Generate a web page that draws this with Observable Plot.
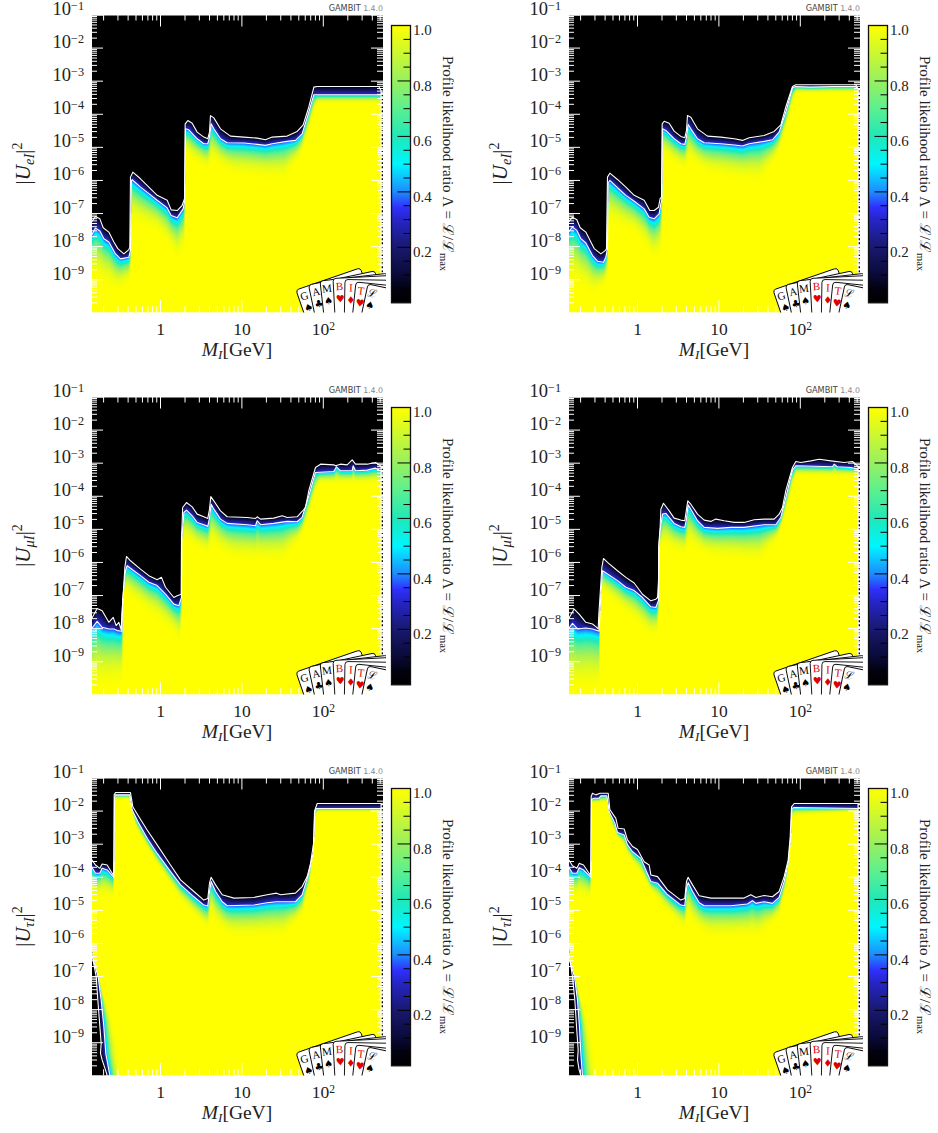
<!DOCTYPE html>
<html><head><meta charset="utf-8">
<script src="https://cdn.jsdelivr.net/npm/d3@7"></script>
<script src="https://cdn.jsdelivr.net/npm/@observablehq/plot@0.6"></script>
<style>
html,body{margin:0;padding:0;background:#fff}
#page{position:relative;width:938px;height:1133px;overflow:hidden;background:#fff}
#page svg{position:absolute;overflow:visible;background:transparent}
</style></head><body><div id="page"></div>
<script>
// All curves: [log10 M_I / GeV, log10 |U|^2].
// upper = outer white contour, lower = inner white contour, fade = depth at which the map reaches yellow.
const e1Upper=[[-0.848,-7.26],[-0.799,-7.09],[-0.745,-7.16],[-0.704,-7.43],[-0.635,-7.56],[-0.573,-7.86],[-0.524,-8.06],[-0.450,-8.22],[-0.389,-8.09],[-0.377,-8.01],[-0.369,-5.90],[-0.340,-5.75],[-0.246,-5.95],[-0.143,-6.20],[-0.041,-6.45],[0.082,-6.60],[0.131,-6.89],[0.205,-6.91],[0.266,-6.75],[0.295,-6.55],[0.303,-4.29],[0.336,-4.19],[0.389,-4.27],[0.450,-4.54],[0.532,-4.69],[0.581,-4.74],[0.602,-4.54],[0.614,-4.04],[0.655,-4.11],[0.737,-4.44],[0.860,-4.66],[1.024,-4.69],[1.188,-4.72],[1.290,-4.77],[1.372,-4.69],[1.556,-4.66],[1.679,-4.52],[1.753,-4.32],[1.822,-3.78],[1.884,-3.18],[1.925,-3.16],[2.682,-3.16],[2.703,-3.26]];
const e1Lower=[[-0.848,-7.66],[-0.799,-7.44],[-0.745,-7.53],[-0.696,-7.76],[-0.635,-7.86],[-0.553,-8.22],[-0.491,-8.37],[-0.389,-8.32],[-0.369,-8.11],[-0.357,-6.00],[-0.348,-5.98],[-0.246,-6.20],[-0.143,-6.40],[-0.041,-6.60],[0.082,-6.83],[0.131,-7.06],[0.205,-7.13],[0.278,-6.86],[0.299,-6.60],[0.307,-4.44],[0.348,-4.47],[0.450,-4.74],[0.532,-4.89],[0.581,-4.89],[0.602,-4.69],[0.622,-4.29],[0.655,-4.44],[0.737,-4.74],[0.819,-4.86],[1.024,-4.87],[1.188,-4.91],[1.290,-4.94],[1.372,-4.89],[1.556,-4.82],[1.659,-4.79],[1.740,-4.59],[1.822,-3.94],[1.884,-3.41],[2.703,-3.41]];
const e1Fade=[[-0.848,-9.22],[-0.532,-9.52],[-0.389,-9.22],[-0.372,-9.0],[-0.36,-7.51],[-0.041,-7.71],[0.123,-8.22],[0.205,-8.62],[0.295,-8.32],[0.31,-5.40],[0.573,-5.80],[0.655,-5.60],[0.90,-6.0],[1.515,-6.20],[1.72,-5.40],[1.822,-4.59],[1.925,-3.73],[2.703,-3.73]];

const e2Upper=[[-0.848,-7.26],[-0.799,-7.11],[-0.745,-7.19],[-0.704,-7.43],[-0.635,-7.56],[-0.573,-7.86],[-0.532,-8.06],[-0.450,-8.22],[-0.397,-8.12],[-0.381,-8.07],[-0.369,-5.90],[-0.340,-5.78],[-0.246,-5.97],[-0.143,-6.20],[-0.041,-6.45],[0.082,-6.60],[0.151,-6.91],[0.205,-6.91],[0.258,-6.81],[0.278,-6.55],[0.295,-6.50],[0.303,-4.29],[0.328,-4.21],[0.389,-4.27],[0.450,-4.51],[0.532,-4.67],[0.581,-4.71],[0.602,-4.49],[0.614,-4.04],[0.655,-4.09],[0.737,-4.44],[0.860,-4.66],[1.024,-4.69],[1.188,-4.74],[1.290,-4.79],[1.372,-4.71],[1.556,-4.64],[1.679,-4.52],[1.761,-4.32],[1.822,-3.78],[1.904,-3.16],[1.945,-3.11],[2.682,-3.11],[2.703,-3.20]];
const e2Lower=[[-0.848,-7.56],[-0.799,-7.41],[-0.745,-7.51],[-0.696,-7.76],[-0.635,-7.89],[-0.553,-8.27],[-0.491,-8.44],[-0.418,-8.47],[-0.389,-8.32],[-0.369,-8.06],[-0.360,-6.07],[-0.340,-6.00],[-0.246,-6.22],[-0.143,-6.45],[-0.041,-6.63],[0.082,-6.86],[0.143,-7.11],[0.205,-7.16],[0.266,-7.01],[0.287,-6.71],[0.299,-6.60],[0.307,-4.44],[0.348,-4.49],[0.450,-4.74],[0.532,-4.89],[0.581,-4.91],[0.602,-4.69],[0.622,-4.31],[0.655,-4.44],[0.737,-4.74],[0.819,-4.86],[1.024,-4.89],[1.188,-4.93],[1.290,-4.96],[1.372,-4.89],[1.556,-4.82],[1.659,-4.77],[1.740,-4.54],[1.822,-3.94],[1.904,-3.20],[1.945,-3.16],[2.125,-3.18],[2.40,-3.16],[2.682,-3.16],[2.703,-3.23]];
const e2Fade=[[-0.848,-9.3],[-0.54,-9.65],[-0.40,-9.3],[-0.372,-9.1],[-0.36,-7.5],[-0.04,-7.75],[0.12,-8.25],[0.2,-8.65],[0.295,-8.4],[0.31,-5.4],[0.57,-5.8],[0.65,-5.6],[0.9,-6.0],[1.5,-6.3],[1.72,-5.4],[1.82,-4.6],[1.945,-3.4],[2.703,-3.4]];

const m1Upper=[[-0.848,-7.71],[-0.778,-7.39],[-0.717,-7.46],[-0.635,-7.81],[-0.581,-7.66],[-0.545,-7.91],[-0.512,-7.81],[-0.483,-8.04],[-0.475,-7.56],[-0.459,-7.01],[-0.438,-6.15],[-0.418,-5.82],[-0.369,-5.95],[-0.246,-6.20],[-0.143,-6.40],[-0.041,-6.52],[0.012,-6.45],[0.061,-6.75],[0.164,-7.06],[0.205,-7.01],[0.254,-6.96],[0.258,-5.24],[0.266,-4.79],[0.272,-4.34],[0.319,-4.19],[0.389,-4.32],[0.450,-4.54],[0.532,-4.62],[0.581,-4.67],[0.602,-4.39],[0.618,-4.01],[0.655,-4.14],[0.737,-4.44],[0.819,-4.62],[1.065,-4.64],[1.167,-4.67],[1.188,-4.62],[1.229,-4.69],[1.392,-4.66],[1.495,-4.59],[1.556,-4.64],[1.679,-4.62],[1.740,-4.46],[1.781,-4.34],[1.822,-3.83],[1.904,-3.13],[1.966,-3.03],[2.129,-3.05],[2.150,-3.08],[2.211,-3.03],[2.293,-3.05],[2.355,-2.90],[2.396,-3.03],[2.539,-3.03],[2.641,-2.98],[2.703,-3.08]];
const m1Lower=[[-0.848,-8.01],[-0.778,-7.78],[-0.717,-7.96],[-0.635,-8.01],[-0.573,-8.01],[-0.532,-8.06],[-0.475,-8.08],[-0.463,-7.06],[-0.430,-6.25],[-0.410,-6.10],[-0.328,-6.25],[-0.246,-6.40],[-0.143,-6.60],[-0.041,-6.70],[0.061,-6.96],[0.164,-7.26],[0.225,-7.31],[0.258,-7.06],[0.262,-5.24],[0.278,-4.84],[0.287,-4.49],[0.319,-4.42],[0.389,-4.59],[0.450,-4.79],[0.532,-4.86],[0.581,-4.91],[0.602,-4.66],[0.622,-4.24],[0.655,-4.39],[0.737,-4.69],[0.819,-4.82],[1.065,-4.86],[1.167,-4.89],[1.188,-4.74],[1.229,-4.86],[1.392,-4.82],[1.556,-4.76],[1.679,-4.77],[1.740,-4.64],[1.822,-3.99],[1.904,-3.28],[2.129,-3.25],[2.162,-3.11],[2.211,-3.23],[2.355,-3.23],[2.367,-3.08],[2.396,-3.23],[2.539,-3.21],[2.641,-3.15],[2.703,-3.23]];
const m1Fade=[[-0.848,-10.2],[-0.48,-10.0],[-0.466,-9.9],[-0.462,-6.9],[-0.4,-7.2],[-0.04,-7.9],[0.16,-8.3],[0.25,-8.7],[0.262,-5.4],[0.29,-5.5],[0.57,-5.9],[0.65,-5.7],[0.9,-6.1],[1.5,-6.2],[1.72,-5.4],[1.82,-4.7],[1.95,-3.7],[2.703,-3.7]];

const m2Upper=[[-0.848,-7.71],[-0.778,-7.41],[-0.717,-7.56],[-0.635,-7.81],[-0.553,-7.86],[-0.512,-7.94],[-0.483,-8.01],[-0.475,-7.56],[-0.459,-6.96],[-0.438,-6.15],[-0.418,-5.88],[-0.369,-6.00],[-0.246,-6.25],[-0.143,-6.45],[-0.041,-6.62],[0.061,-6.96],[0.164,-7.16],[0.225,-7.11],[0.246,-7.06],[0.258,-6.55],[0.262,-5.45],[0.278,-4.94],[0.287,-4.39],[0.319,-4.21],[0.389,-4.44],[0.450,-4.66],[0.532,-4.72],[0.581,-4.74],[0.602,-4.39],[0.618,-4.14],[0.655,-4.24],[0.737,-4.54],[0.819,-4.72],[0.901,-4.76],[0.962,-4.69],[1.065,-4.74],[1.188,-4.79],[1.310,-4.79],[1.433,-4.71],[1.556,-4.69],[1.679,-4.69],[1.740,-4.54],[1.781,-4.34],[1.822,-3.83],[1.904,-3.13],[1.945,-2.95],[2.007,-2.98],[2.129,-2.93],[2.232,-2.88],[2.375,-2.93],[2.539,-2.98],[2.641,-2.95],[2.703,-3.08]];
const m2Lower=[[-0.848,-8.01],[-0.799,-7.84],[-0.737,-8.01],[-0.635,-7.98],[-0.553,-8.01],[-0.471,-8.08],[-0.459,-7.36],[-0.430,-6.25],[-0.369,-6.35],[-0.246,-6.55],[-0.143,-6.75],[-0.041,-6.85],[0.061,-7.06],[0.164,-7.34],[0.225,-7.36],[0.258,-7.16],[0.262,-5.55],[0.278,-5.04],[0.307,-4.54],[0.348,-4.52],[0.450,-4.82],[0.532,-4.92],[0.581,-4.94],[0.602,-4.69],[0.622,-4.26],[0.655,-4.39],[0.737,-4.74],[0.819,-4.94],[0.983,-4.97],[1.147,-4.94],[1.310,-4.94],[1.556,-4.86],[1.699,-4.86],[1.761,-4.64],[1.822,-4.04],[1.904,-3.21],[1.945,-3.08],[2.396,-3.11],[2.416,-3.03],[2.457,-3.11],[2.621,-3.13],[2.703,-3.18]];
const m2Fade=[[-0.848,-10.3],[-0.48,-10.2],[-0.466,-10.0],[-0.462,-6.9],[-0.4,-7.1],[-0.04,-7.9],[0.16,-8.4],[0.25,-8.4],[0.262,-5.6],[0.29,-5.7],[0.57,-5.9],[0.65,-5.7],[0.9,-6.0],[1.5,-6.2],[1.72,-5.4],[1.82,-4.6],[1.95,-3.45],[2.703,-3.45]];

const t1Upper=[[-0.848,-3.46],[-0.799,-3.63],[-0.745,-3.73],[-0.717,-3.60],[-0.655,-3.63],[-0.581,-3.93],[-0.573,-3.78],[-0.569,-1.51],[-0.553,-1.44],[-0.369,-1.44],[-0.340,-1.87],[-0.266,-2.17],[-0.164,-2.57],[-0.041,-3.02],[0.123,-3.63],[0.246,-4.08],[0.410,-4.43],[0.532,-4.69],[0.581,-4.64],[0.602,-4.18],[0.622,-4.00],[0.676,-4.23],[0.758,-4.53],[0.901,-4.63],[1.147,-4.61],[1.310,-4.53],[1.425,-4.48],[1.474,-4.53],[1.658,-4.48],[1.740,-4.28],[1.802,-3.98],[1.843,-3.58],[1.884,-2.92],[1.896,-1.97],[1.925,-1.77],[2.703,-1.77]];
const t1Lower=[[-0.848,-3.68],[-0.799,-3.88],[-0.745,-3.88],[-0.717,-3.73],[-0.655,-3.78],[-0.573,-4.00],[-0.565,-1.61],[-0.553,-1.51],[-0.377,-1.51],[-0.348,-1.97],[-0.278,-2.32],[-0.164,-2.82],[-0.041,-3.28],[0.123,-3.83],[0.246,-4.23],[0.410,-4.59],[0.532,-4.84],[0.581,-4.87],[0.602,-4.43],[0.622,-4.13],[0.676,-4.43],[0.758,-4.74],[0.819,-4.86],[1.147,-4.84],[1.310,-4.77],[1.425,-4.74],[1.658,-4.74],[1.740,-4.53],[1.822,-3.88],[1.876,-3.28],[1.892,-2.02],[1.916,-1.92],[2.703,-1.92]];
const t1Fade=[[-0.848,-4.7],[-0.575,-4.8],[-0.565,-1.7],[-0.37,-1.7],[-0.3,-2.6],[-0.04,-3.7],[0.25,-4.8],[0.5,-5.5],[0.58,-5.7],[0.62,-5.3],[0.68,-5.6],[0.9,-6.0],[1.5,-6.0],[1.74,-5.3],[1.83,-4.3],[1.89,-2.4],[1.93,-2.05],[2.703,-2.05]];
const t1WedgeOuter=[[-0.848,-6.25],[-0.790,-7.00],[-0.770,-7.71],[-0.745,-8.51],[-0.729,-9.02],[-0.737,-9.32],[-0.717,-9.52],[-0.676,-9.82],[-0.655,-9.99]];
const t1WedgeInner=[[-0.835,-6.40],[-0.766,-7.00],[-0.729,-7.71],[-0.696,-8.51],[-0.672,-9.32],[-0.622,-9.99]];
const t1WedgeFade=[[-0.827,-6.50],[-0.696,-7.51],[-0.573,-8.31],[-0.5,-9.12],[-0.459,-9.99]];

const t2Upper=[[-0.848,-3.46],[-0.799,-3.65],[-0.745,-3.73],[-0.717,-3.58],[-0.663,-3.63],[-0.581,-3.93],[-0.573,-3.78],[-0.569,-1.56],[-0.553,-1.46],[-0.512,-1.51],[-0.459,-1.46],[-0.360,-1.46],[-0.340,-1.95],[-0.266,-2.22],[-0.238,-2.52],[-0.164,-2.54],[-0.123,-2.87],[-0.061,-3.07],[0,-3.16],[0.082,-3.53],[0.143,-3.63],[0.164,-3.93],[0.246,-3.98],[0.369,-4.38],[0.532,-4.69],[0.581,-4.64],[0.602,-4.13],[0.622,-4.00],[0.676,-4.23],[0.758,-4.56],[0.901,-4.63],[1.147,-4.63],[1.310,-4.63],[1.392,-4.53],[1.454,-4.61],[1.556,-4.55],[1.658,-4.59],[1.740,-4.43],[1.802,-3.98],[1.851,-3.48],[1.876,-2.77],[1.892,-1.87],[1.925,-1.77],[2.703,-1.77]];
const t2Lower=[[-0.848,-3.68],[-0.799,-3.88],[-0.745,-3.88],[-0.717,-3.71],[-0.663,-3.78],[-0.573,-4.00],[-0.565,-1.64],[-0.532,-1.61],[-0.471,-1.61],[-0.450,-1.54],[-0.377,-1.54],[-0.348,-2.02],[-0.278,-2.37],[-0.246,-2.65],[-0.164,-2.72],[-0.123,-3.02],[-0.061,-3.23],[0.041,-3.43],[0.102,-3.78],[0.164,-4.13],[0.246,-4.18],[0.369,-4.53],[0.532,-4.84],[0.581,-4.86],[0.602,-4.33],[0.622,-4.16],[0.676,-4.43],[0.758,-4.77],[0.819,-4.86],[1.147,-4.86],[1.351,-4.81],[1.413,-4.71],[1.454,-4.79],[1.556,-4.74],[1.658,-4.79],[1.740,-4.61],[1.802,-4.13],[1.851,-3.58],[1.884,-2.77],[1.896,-1.92],[1.925,-1.89],[2.703,-1.92]];
const t2Fade=[[-0.848,-4.7],[-0.575,-4.8],[-0.565,-1.8],[-0.37,-1.8],[-0.3,-2.6],[-0.04,-3.7],[0.25,-4.8],[0.5,-5.5],[0.58,-5.7],[0.62,-5.3],[0.68,-5.6],[0.9,-6.0],[1.5,-6.0],[1.74,-5.3],[1.83,-4.3],[1.89,-2.4],[1.93,-2.2],[2.703,-2.05]];
const t2WedgeOuter=[[-0.848,-6.20],[-0.799,-7.00],[-0.770,-7.71],[-0.749,-8.51],[-0.729,-9.22],[-0.737,-9.52],[-0.717,-9.82],[-0.696,-9.99]];
const t2WedgeInner=[[-0.835,-6.50],[-0.774,-7.00],[-0.737,-7.71],[-0.713,-8.51],[-0.696,-9.32],[-0.676,-9.99]];
const t2WedgeFade=[[-0.827,-6.50],[-0.704,-7.51],[-0.594,-8.31],[-0.524,-9.12],[-0.471,-9.99]];

const xDomain=[0.142,549], yDomain=[1e-10,1e-1];
const xMajor=[1,10,100];
const xMinor=[0.2,0.3,0.4,0.5,0.6,0.7,0.8,0.9,2,3,4,5,6,7,8,9,20,30,40,50,60,70,80,90,200,300,400,500];
const yMajor=[1e-9,1e-8,1e-7,1e-6,1e-5,1e-4,1e-3,1e-2,1e-1];
const yMinorFactors=[2,3,4,5,6,7,8,9];
const yExponents=[-10,-9,-8,-7,-6,-5,-4,-3,-2];
const barMajor=[0.2,0.4,0.6,0.8,1];
const barMinor=[0.05,0.1,0.15,0.25,0.3,0.35,0.45,0.5,0.55,0.65,0.7,0.75,0.85,0.9,0.95];
const colorStops=[0,0.05,0.1,0.2,0.3,0.345,0.4,0.5,0.6,0.7,0.8,0.9,1];
const colorRange=["#000000","#020210","#0a0a38","#191970","#2626c8","#3030ff","#1e8cff","#00f6ff","#20e8b8","#5cf090","#98f060","#ccf830","#ffff00"];
const cardLetters=["G","A","M","B","I","T","ℒ"];
const cardSuits=["♠","♣","♠","♥","♦","♥","♠"];
const cardColors=["#000","#000","#000","#e00000","#e00000","#e00000","#000"];

const panels=[
 {flav:"e",col:0,row:0,upper:e1Upper,lower:e1Lower,fade:e1Fade},
 {flav:"e",col:1,row:0,upper:e2Upper,lower:e2Lower,fade:e2Fade},
 {flav:"μ",col:0,row:1,upper:m1Upper,lower:m1Lower,fade:m1Fade},
 {flav:"μ",col:1,row:1,upper:m2Upper,lower:m2Lower,fade:m2Fade},
 {flav:"τ",col:0,row:2,upper:t1Upper,lower:t1Lower,fade:t1Fade,wo:t1WedgeOuter,wi:t1WedgeInner,wf:t1WedgeFade},
 {flav:"τ",col:1,row:2,upper:t2Upper,lower:t2Lower,fade:t2Fade,wo:t2WedgeOuter,wi:t2WedgeInner,wf:t2WedgeFade}
];

const SERIF='"Liberation Serif","DejaVu Serif",serif';
const colX=[0,476.7], rowY=[0,381.5,763.4];
const page=document.getElementById("page");
const colorOpt={type:"linear",domain:colorStops,range:colorRange,interpolate:"rgb",clamp:true};

function reader(pts,ix,iy){
  const s=pts.slice().sort((a,b)=>a[ix]-b[ix]);
  const xs=s.map(d=>d[ix]),ys=s.map(d=>d[iy]);
  return v=>{
    if(v<=xs[0])return ys[0];
    const n=xs.length;
    if(v>=xs[n-1])return ys[n-1];
    const i=d3.bisectRight(xs,v);
    const t=(v-xs[i-1])/(xs[i]-xs[i-1]);
    return ys[i-1]+t*(ys[i]-ys[i-1]);
  };
}
function shade(v,outer,inner,fade){ // v decreases into the allowed region
  if(v>=outer)return 0;
  if(v>=inner)return 0.04+0.29*(outer-v)/Math.max(1e-6,outer-inner);
  const t=Math.min(1,(inner-v)/Math.max(1e-6,inner-fade));
  const u=1-t;
  return 0.34+0.66*(1-u*u*u);
}
function addText(svg,x,y,rot,parts,anchor,extra){
  const el=d3.select(svg).append("text").attr("transform",`translate(${x},${y}) rotate(${rot})`)
    .attr("text-anchor",anchor||"middle").attr("font-family",(extra&&extra.family)||SERIF).attr("fill",(extra&&extra.fill)||"#222");
  parts.forEach(p=>{
    el.append("tspan").text(p.t).attr("font-size",p.size).attr("font-style",p.italic?"italic":"normal")
      .attr("dy",p.dy||0).attr("fill",p.fill||null).attr("font-family",p.family||null);
  });
  return el;
}
function powers(svg){
  d3.select(svg).selectAll("text").each(function(){
    const m=/^(\d+)\^(.+)$/.exec(this.textContent);
    if(!m)return;
    const fs=parseFloat(getComputedStyle(this).fontSize);
    const t=d3.select(this);
    t.selectAll("*").remove();
    t.text(m[1]);
    t.append("tspan").text(m[2]).attr("font-size",fs*0.66).attr("dy",-fs*0.29);
  });
}
function drawCards(svg){
  const W=386,B=312.6;
  const id="c"+Math.random().toString(36).slice(2);
  const root=d3.select(svg);
  root.append("clipPath").attr("id",id).append("rect").attr("x",250).attr("y",240).attr("width",W-250).attr("height",B-240);
  const g=root.append("g").attr("clip-path",`url(#${id})`);
  const cx=[296,308.5,320,333,345,356,368], cy=[290,285,281,278.5,279.5,282,284], rot=[-19,-12,-6.5,-3,1,6,12];
  cardLetters.forEach((ch,i)=>{
    const c=g.append("g").attr("transform",`translate(${cx[i]},${cy[i]}) rotate(${rot[i]})`);
    c.append("rect").attr("x",0).attr("y",0).attr("width",68).attr("height",110).attr("rx",3).attr("fill","#fff").attr("stroke","#000").attr("stroke-width",0.9);
    c.append("text").text(ch).attr("x",6).attr("y",12).attr("font-size",11).attr("text-anchor","middle")
      .attr("font-family",SERIF).attr("fill",cardColors[i]);
    c.append("text").text(cardSuits[i]).attr("x",6.2).attr("y",24).attr("font-size",10).attr("text-anchor","middle")
      .attr("font-family",'"DejaVu Sans",sans-serif').attr("fill",cardColors[i]);
  });
}

panels.forEach(p=>{
  const upper=reader(p.upper,0,1),lower=reader(p.lower,0,1),fade=reader(p.fade,0,1);
  const wo=p.wo&&reader(p.wo,1,0),wi=p.wi&&reader(p.wi,1,0),wf=p.wf&&reader(p.wf,1,0);
  const wTop=p.wo&&p.wo[0][1];
  const lastM=2.703, lastU=p.upper[p.upper.length-1][1];
  const field=(x,y)=>{
    const lx=Math.log10(x),ly=Math.log10(y);
    if(lx>lastM) return ly>lastU?0:NaN;
    let v=shade(ly,upper(lx),lower(lx),fade(lx));
    if(wo&&ly<wTop){ v=Math.min(v,shade(-lx,-wo(ly),-wi(ly),-wf(ly))); }
    return v;
  };
  const W=386,H=368,mL=91,mR=3,mT=14.5,mB=55.7;
  const pw=W-mL-mR,ph=H-mT-mB;
  const line=pts=>Plot.line(pts,{x:d=>10**d[0],y:d=>10**d[1],stroke:"white",strokeWidth:1.1,curve:"linear"});
  const yMinor=yExponents.flatMap(e=>yMinorFactors.map(f=>f*10**e));
  const marks=[
    Plot.raster({fill:field,x1:xDomain[0],x2:xDomain[1],y1:yDomain[0],y2:yDomain[1],pixelSize:1,imageRendering:"auto"}),
    Plot.ruleX([10**2.727],{y1:yDomain[0],y2:10**lastU,stroke:"#000",strokeWidth:1.6,strokeDasharray:"2 2"}),
    line(p.upper),line(p.lower)
  ];
  if(p.wo) marks.push(line(p.wo),line(p.wi));
  const tick={stroke:"white",strokeWidth:1};
  marks.push(
    Plot.ruleY(yMajor,{y:d=>d,insetRight:pw-12,...tick}),
    Plot.ruleY(yMajor,{y:d=>d,insetLeft:pw-12,...tick}),
    Plot.ruleY(yMinor,{y:d=>d,insetRight:pw-6,...tick}),
    Plot.ruleY(yMinor,{y:d=>d,insetLeft:pw-6,...tick}),
    Plot.ruleX(xMajor,{x:d=>d,insetBottom:ph-12,...tick}),
    Plot.ruleX(xMajor,{x:d=>d,insetTop:ph-12,...tick}),
    Plot.ruleX(xMinor,{x:d=>d,insetBottom:ph-6,...tick}),
    Plot.ruleX(xMinor,{x:d=>d,insetTop:ph-6,...tick}),
    Plot.frame({stroke:"white",strokeWidth:1}),
    Plot.axisY({anchor:"left",ticks:yMajor,tickSize:0,tickPadding:7.5,lineAnchor:"bottom",label:null,fontSize:18.5,
      tickFormat:d=>"10^−"+Math.round(-Math.log10(d))}),
    Plot.axisX({anchor:"bottom",ticks:xMajor,tickSize:0,tickPadding:10,label:null,fontSize:17.5,
      tickFormat:d=>d===100?"10^2":String(d)})
  );
  const svg=Plot.plot({width:W,height:H,marginLeft:mL,marginRight:mR,marginTop:mT,marginBottom:mB,
    x:{type:"log",domain:xDomain,axis:null},y:{type:"log",domain:yDomain,axis:null},
    color:colorOpt,style:{fontFamily:SERIF,color:"#222",background:"transparent",overflow:"visible"},marks});
  svg.style.left=colX[p.col]+"px";svg.style.top=rowY[p.row]+"px";
  page.appendChild(svg);
  powers(svg);
  addText(svg,237,356,0,[{t:"M",size:19.5,italic:true},{t:"I",size:13,italic:true,dy:3},{t:"[GeV]",size:19.5,dy:-3}]);
  addText(svg,30,163.5,-90,[{t:"|",size:21},{t:"U",size:21,italic:true},{t:p.flav+"I",size:14.5,italic:true,dy:3.5},{t:"|",size:21,dy:-3.5},{t:"2",size:14,dy:-8}]);
  addText(svg,383,10.6,0,[{t:"GAMBIT",size:8.2,fill:"#444"},{t:" 1.4.0",size:7.8,fill:"#888"}],"end",{family:'"DejaVu Sans",sans-serif'});
  drawCards(svg);

  const bw=84,bh=320,bT=25,bB=bh-302.3,bL=5,bR=60;
  const barW=bw-bL-bR;
  const bar=Plot.plot({width:bw,height:bh,marginLeft:bL,marginRight:bR,marginTop:bT,marginBottom:bB,
    x:{domain:[0,1],axis:null},y:{domain:[0,1],axis:null},color:colorOpt,
    style:{fontFamily:SERIF,color:"#222",background:"transparent",overflow:"visible"},
    marks:[
      Plot.raster({fill:(x,y)=>y,x1:0,x2:1,y1:0,y2:1,pixelSize:1}),
      Plot.ruleY(barMajor,{y:d=>d,insetLeft:barW-12.5,stroke:"#000",strokeWidth:1}),
      Plot.ruleY(barMinor,{y:d=>d,insetLeft:barW-6.5,stroke:"#000",strokeWidth:1}),
      Plot.frame({stroke:"#111",strokeWidth:1.3}),
      Plot.axisY({anchor:"right",ticks:barMajor,tickSize:0,tickPadding:2.5,dy:5,fontSize:15,label:null,tickFormat:d=>d.toFixed(1)})
    ]});
  bar.style.left=(colX[p.col]+386)+"px";bar.style.top=rowY[p.row]+"px";
  page.appendChild(bar);
  addText(bar,57,163.5,90,[{t:"Profile likelihood ratio Λ = ℒ/ℒ",size:15},{t:"max",size:10.5,dy:3}]);
});
</script></body></html>
